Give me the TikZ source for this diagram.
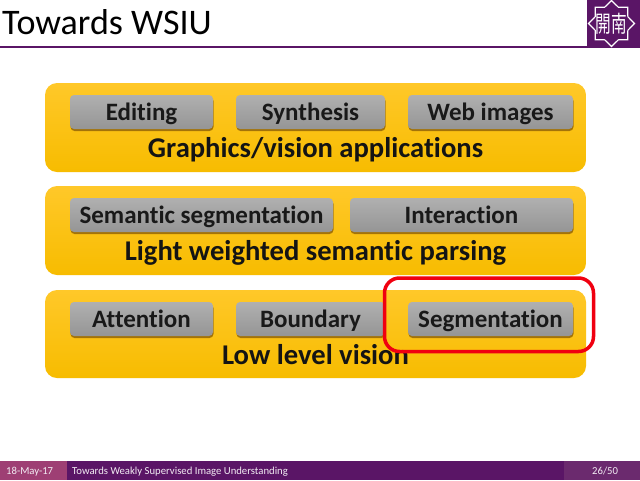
\documentclass[tikz,border=0pt]{standalone}
\usepackage{fontspec}
\setmainfont[RawFeature={-liga}]{Carlito}
\newfontfamily\cjkfont{Noto Sans CJK TC}
\usetikzlibrary{shadows,shapes.geometric}
\definecolor{dpurple}{HTML}{5A1566}
\definecolor{mpurple}{HTML}{9E3F74}
\definecolor{rpurple}{HTML}{6B2A6E}
\definecolor{panelTop}{HTML}{FFC829}
\definecolor{panelBot}{HTML}{F7BC00}
\definecolor{btnTop}{HTML}{B0B0B0}
\definecolor{btnBot}{HTML}{959595}
\definecolor{hlred}{HTML}{F00010}
\tikzset{
 x=1pt,y=-1pt,
 panel/.style={rounded corners=12pt,top color=panelTop,bottom color=panelBot,inner sep=0pt,outer sep=0pt,draw=none},
 btn/.style={rounded corners=4pt,top color=btnTop,bottom color=btnBot,inner sep=0pt,outer sep=0pt,draw=none,
   drop shadow={shadow xshift=0.5pt,shadow yshift=-2pt,opacity=.5,fill=black!70!orange}},
 btntext/.style={font=\fontsize{25}{25}\selectfont\bfseries,text=black!90,text height=16pt,text depth=0pt},
 heading/.style={font=\fontsize{28.6}{28.6}\selectfont\bfseries,text=black!92,anchor=base,inner sep=0pt},
 bartext/.style={font=\fontsize{10.7}{10.7}\selectfont,text=white!92!dpurple,anchor=base west,inner sep=0pt}
}
\newcommand{\panelbox}[5]{\node[panel,minimum width=#4-#2,minimum height=#5-#3,anchor=north west] (#1) at (#2,#3) {};}
\newcommand{\btnbox}[6]{\node[btn,minimum width=#4-#2,minimum height=#5-#3,anchor=north west,btntext] (#1) at (#2,#3) {#6};}
\begin{document}
\begin{tikzpicture}
\useasboundingbox (0,0) rectangle (640,480);
\fill[white] (0,0) rectangle (640,480);
% title
\node[font=\fontsize{36}{36}\selectfont,text=black,anchor=base west,inner sep=0pt] (title) at (2,34) {Towards WSIU};
\draw[dpurple,line width=2pt] (0,47) -- (640,47);
% logo
\fill[dpurple] (587,0) rectangle (640,47);
\node[star,star points=8,star point ratio=1.3,minimum size=46pt,draw=white,line width=1.2pt,inner sep=0pt,outer sep=0pt] (logostar) at (611.5,23.5) {};
\node[font=\fontsize{23}{23}\cjkfont,text=white,inner sep=0pt,transform shape,xscale=.68] (logotext) at (611,23.5) {開南};
% panels
\panelbox{p1}{45}{83}{586}{172}
\panelbox{p2}{45}{186}{586}{275}
\panelbox{p3}{45}{290}{586}{378}
% buttons
\btnbox{b11}{70}{95}{213}{129}{Editing}
\btnbox{b12}{236}{95}{385}{129}{Synthesis}
\btnbox{b13}{408}{95}{573}{129}{Web images}
\btnbox{b21}{70}{198}{333}{232}{Semantic segmentation}
\btnbox{b22}{350}{198}{573}{232}{Interaction}
\btnbox{b31}{70}{302}{213}{336}{Attention}
\btnbox{b32}{236}{302}{385}{336}{Boundary}
\btnbox{b33}{408}{302}{573}{336}{Segmentation}
% headings
\node[heading] (h1) at (315.5,157) {Graphics/vision applications};
\node[heading] (h2) at (315.5,260.5) {Light weighted semantic parsing};
\node[heading] (h3) at (315.5,364) {Low level vision};
% highlight
\node[draw=hlred,line width=3.5pt,rounded corners=15pt,minimum width=209pt,minimum height=73.5pt,anchor=north west,inner sep=0pt,outer sep=0pt] (hl) at (384.5,278) {};
% footer
\fill[mpurple] (0,461) rectangle (67,480);
\fill[dpurple] (67,461) rectangle (564,480);
\fill[rpurple] (564,461) rectangle (640,480);
\node[bartext] (date) at (6,474) {18-May-17};
\node[bartext] (ftitle) at (72,474) {Towards Weakly Supervised Image Understanding};
\node[bartext] (page) at (592,474) {26/50};
\end{tikzpicture}
\end{document}
